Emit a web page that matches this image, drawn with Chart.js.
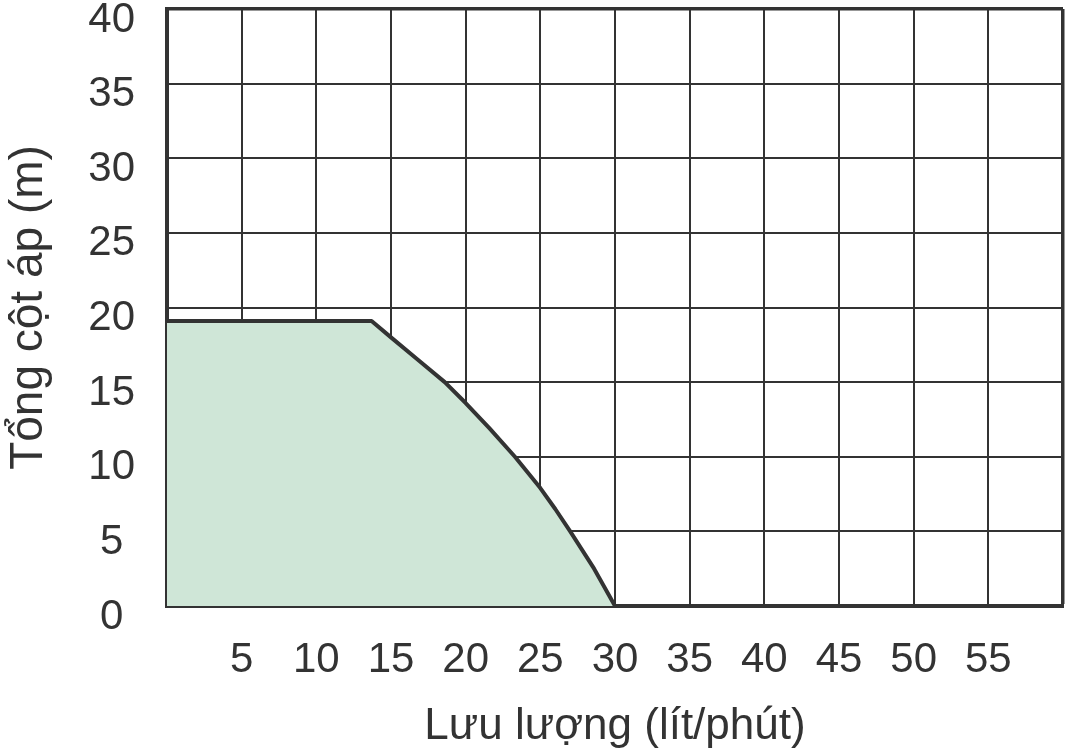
<!DOCTYPE html>
<html>
<head>
<meta charset="utf-8">
<script src="https://cdn.jsdelivr.net/npm/chart.js@4/dist/chart.umd.min.js"></script>
<style>
  body { margin: 0; background: #fff; }
  #wrap { width: 1066px; height: 755px; }
</style>
</head>
<body>
<div id="wrap"><canvas id="pumpChart"></canvas></div>
<script>
// pump curve
const flowValues = [0, 13.7, 15, 16.8, 18.6, 20, 21.6, 23.3, 25, 26, 27, 28.6, 30];
const headValues = [19.1, 19.1, 18.0, 16.5, 15.0, 13.6, 11.9, 10.0, 7.9, 6.5, 5.0, 2.5, 0];
const xTickLabels = [5, 10, 15, 20, 25, 30, 35, 40, 45, 50, 55];
const yTickLabels = [0, 5, 10, 15, 20, 25, 30, 35, 40];

const ink = '#333333';
const font = 'Liberation Sans, Arial, Helvetica, sans-serif';

const points = flowValues.map((x, i) => ({ x: x, y: headValues[i] }));

// no auto padding for overhanging tick labels, the plot box is fixed
function noPad(s) {
  s.paddingTop = 0;
  s.paddingBottom = 0;
  s.paddingLeft = 0;
  s.paddingRight = 0;
}

new Chart(document.getElementById('pumpChart'), {
  type: 'line',
  data: {
    datasets: [{
      data: points,
      borderColor: ink,
      borderWidth: 4,
      borderJoinStyle: 'round',
      backgroundColor: '#cfe6d7',
      fill: 'origin',
      pointRadius: 0,
      tension: 0
    }]
  },
  options: {
    responsive: true,
    maintainAspectRatio: false,
    animation: false,
    layout: { padding: { top: 9, right: 3, left: 0, bottom: 0 } },
    plugins: { legend: { display: false }, tooltip: { enabled: false } },
    scales: {
      x: {
        type: 'linear',
        min: 0,
        max: 60,
        z: 1,
        afterFit: (s) => { s.height = 149; noPad(s); },
        grid: {
          color: ink,
          lineWidth: (c) => (c.tick && c.tick.value === 60 ? 3.5 : 2),
          drawTicks: false
        },
        border: { display: true, color: ink, width: 4 },
        ticks: {
          stepSize: 5,
          padding: 29,
          color: ink,
          font: { family: font, size: 42 },
          maxRotation: 0,
          autoSkip: false,
          callback: (v) => (xTickLabels.includes(v) ? String(v) : '')
        },
        title: {
          display: true,
          text: 'Lưu lượng (lít/phút)',
          color: ink,
          font: { family: font, size: 44 },
          padding: { top: 0, bottom: 2 }
        }
      },
      y: {
        min: 0,
        max: 40,
        z: 1,
        afterFit: (s) => { s.width = 167; noPad(s); },
        grid: {
          color: ink,
          lineWidth: (c) => (c.tick && c.tick.value === 40 ? 3.5 : 2),
          drawTicks: false
        },
        border: { display: true, color: ink, width: 4 },
        ticks: {
          stepSize: 5,
          padding: 32,
          crossAlign: 'center',
          labelOffset: 11,
          color: ink,
          font: { family: font, size: 42 },
          callback: (v) => (yTickLabels.includes(v) ? String(v) : '')
        },
        title: {
          display: true,
          text: 'Tổng cột áp (m)',
          color: ink,
          font: { family: font, size: 46 },
          padding: { top: 2, bottom: 0 }
        }
      }
    }
  }
});
</script>
</body>
</html>
